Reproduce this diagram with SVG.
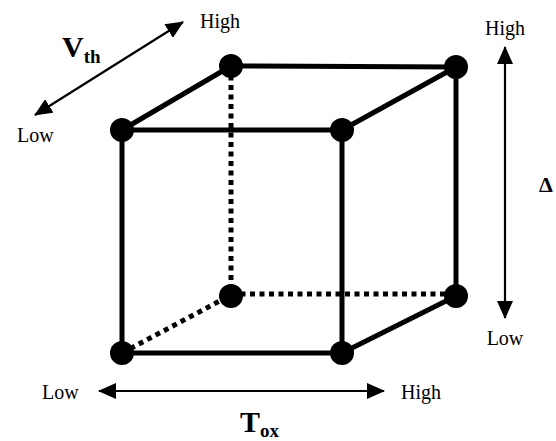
<svg xmlns="http://www.w3.org/2000/svg" width="556" height="441" viewBox="0 0 556 441">
<style>
.edge{stroke:#000;stroke-width:5;fill:none;stroke-linecap:butt}
.dot{stroke:#000;stroke-width:5;fill:none;stroke-dasharray:5 4.5}
.axis{stroke:#000;stroke-width:2.2;fill:none}
.v{fill:#000}
.lbl{font-family:"Liberation Serif","Times New Roman",serif;font-size:20px;fill:#000}
.big{font-family:"Liberation Serif","Times New Roman",serif;font-weight:bold;fill:#000}
</style>
<defs>
<marker id="ah" markerUnits="userSpaceOnUse" markerWidth="18" markerHeight="16" viewBox="0 0 18 16" refX="17" refY="8" orient="auto-start-reverse">
<path d="M0,0 L18,8 L0,16 Z" fill="#000"/>
</marker>
</defs>
<rect width="556" height="441" fill="#fff"/>
<g id="connectors">
<line class="dot" x1="231" y1="66" x2="231" y2="295"/>
<line class="dot" x1="231" y1="294" x2="456" y2="294"/>
<line class="dot" x1="122" y1="353" x2="231" y2="295"/>
<line class="edge" x1="122" y1="130" x2="342" y2="130"/>
<line class="edge" x1="122" y1="353" x2="342" y2="353"/>
<line class="edge" x1="122" y1="130" x2="122" y2="353"/>
<line class="edge" x1="342" y1="130" x2="342" y2="353"/>
<line class="edge" x1="231" y1="66" x2="456" y2="67"/>
<line class="edge" x1="456" y1="67" x2="456" y2="296"/>
<line class="edge" x1="122" y1="130" x2="231" y2="66"/>
<line class="edge" x1="342" y1="130" x2="456" y2="67"/>
<line class="edge" x1="342" y1="353" x2="456" y2="296"/>
</g>
<g id="n-ftl"><circle class="v" cx="122" cy="130" r="12"/></g>
<g id="n-ftr"><circle class="v" cx="342" cy="130" r="12"/></g>
<g id="n-fbl"><circle class="v" cx="122" cy="353" r="12"/></g>
<g id="n-fbr"><circle class="v" cx="342" cy="353" r="12"/></g>
<g id="n-btl"><circle class="v" cx="231" cy="66" r="12"/></g>
<g id="n-btr"><circle class="v" cx="456" cy="67" r="12"/></g>
<g id="n-bbl"><circle class="v" cx="231" cy="296" r="12"/></g>
<g id="n-bbr"><circle class="v" cx="456" cy="296" r="12"/></g>
<g id="axes">
<line class="axis" x1="35" y1="115" x2="183" y2="22" marker-start="url(#ah)" marker-end="url(#ah)"/>
<line class="axis" x1="505" y1="47" x2="505" y2="318" marker-start="url(#ah)" marker-end="url(#ah)"/>
<line class="axis" x1="99" y1="391" x2="384" y2="391" marker-start="url(#ah)" marker-end="url(#ah)"/>
</g>
<g id="labels">
<text class="lbl" x="200" y="28">High</text>
<text class="lbl" x="17" y="142">Low</text>
<text class="lbl" x="505" y="35" text-anchor="middle">High</text>
<text class="lbl" x="505" y="345" text-anchor="middle">Low</text>
<text class="lbl" x="42" y="399">Low</text>
<text class="lbl" x="401" y="399">High</text>
<text class="big" x="62" y="57" font-size="30">V<tspan font-size="19" dy="6">th</tspan></text>
<text class="big" x="240" y="432" font-size="30">T<tspan font-size="19" dy="5">ox</tspan></text>
<text class="big" x="546" y="192" font-size="22" text-anchor="middle">Δ</text>
</g>
</svg>
